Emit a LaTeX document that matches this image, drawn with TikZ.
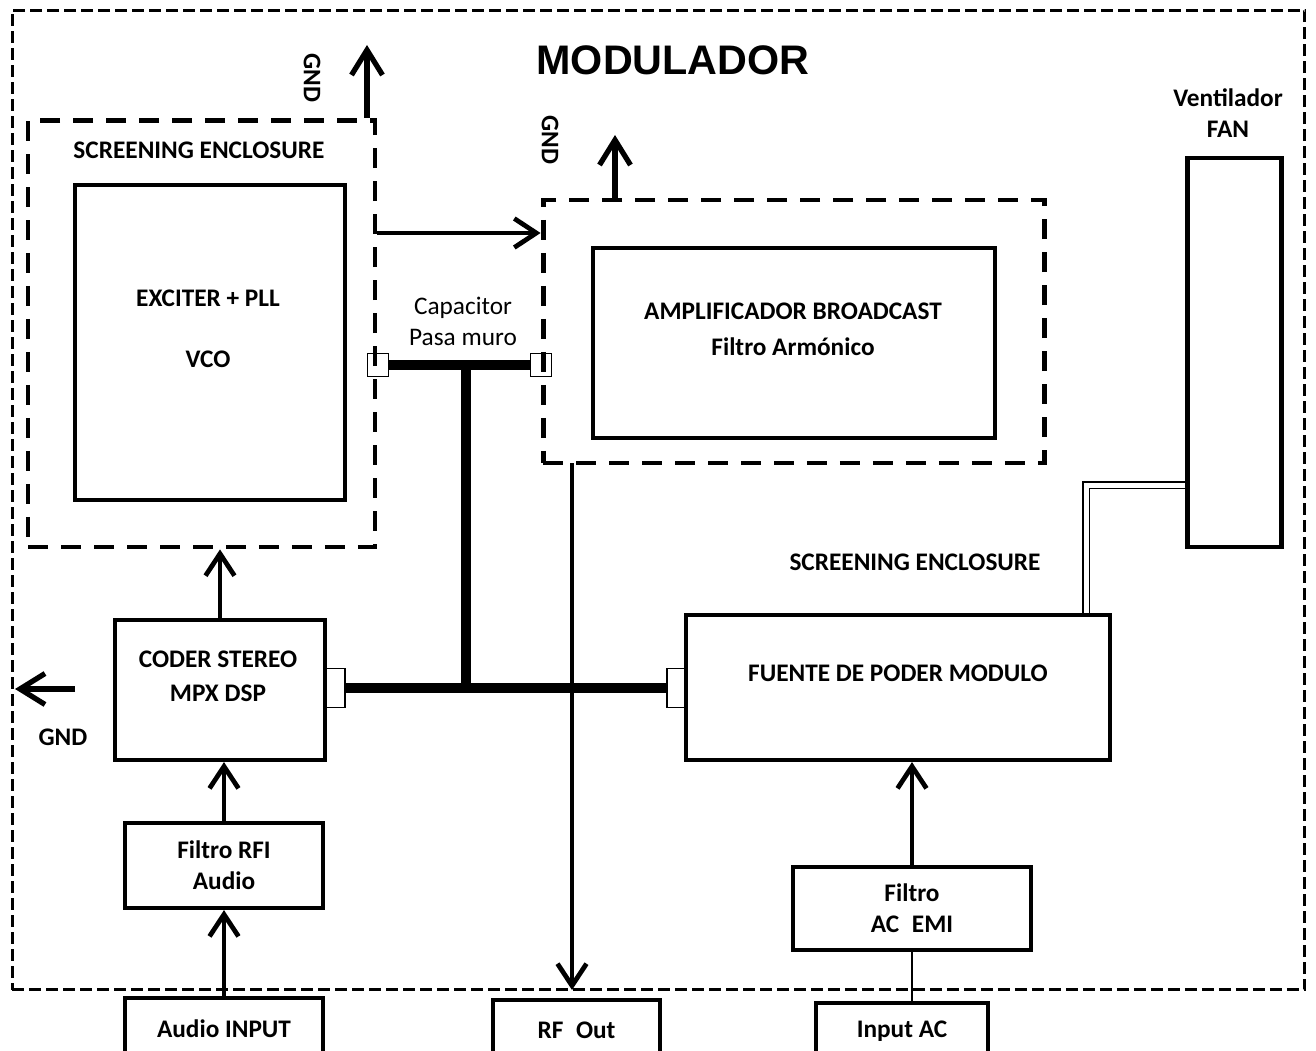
\documentclass[tikz,border=0pt]{standalone}
\usepackage{fontspec}
\setmainfont{Carlito}
\newfontfamily\titlefont{Liberation Sans}
\usetikzlibrary{arrows.meta,calc}

\begin{document}
\begin{tikzpicture}[x=0.02cm, y=-0.02cm, every node/.style={font=\bfseries\fontsize{14.4}{17.8}\selectfont, align=center}]
  \tikzset{
    blk/.style={draw, line width=2.4pt, inner sep=0pt},
    encl/.style={draw, line width=2.8pt, dash pattern=on 0.4cm off 0.26cm, inner sep=0pt},
    outerbox/.style={draw, line width=1.8pt, dash pattern=on 0.24cm off 0.1cm, inner sep=0pt},
    feed/.style={draw, line width=1pt, minimum width=0.42cm, minimum height=0.46cm, inner sep=0pt},
    feedv/.style={draw, line width=1pt, minimum width=0.4cm, minimum height=0.78cm, inner sep=0pt},
    bus/.style={line width=5.6pt},
    arr/.style={line width=2.7pt, -{Straight Barb[length=0.44cm, width=0.58cm]}},
    gndarr/.style={line width=3pt, -{Straight Barb[length=0.5cm, width=0.62cm]}},
    wire/.style={line width=1.6pt},
    fanline/.style={double, line width=1.1pt, double distance=0.1cm}
  }
  \useasboundingbox (0,0) rectangle (1316,1051);
  \clip (0,0) rectangle (1316,1051);

  % --- outer enclosure ---
  \node[outerbox, minimum width=25.86cm, minimum height=19.6cm] (modbox) at (658.5,500) {};
  \node[font=\titlefont\bfseries\fontsize{23.5}{28}\selectfont] (title) at (673,60) {MODULADOR};

  % --- screening enclosure: exciter ---
  \node[encl, minimum width=6.94cm, minimum height=8.54cm] (scrA) at (201.5,333.5) {};
  \node (scrAt) at (199,150) {SCREENING ENCLOSURE};
  \node[blk, minimum width=5.4cm, minimum height=6.3cm] (exciter) at (210,342.5) {};
  \node (exciterT) at (208,329) {EXCITER + PLL\\[0.6cm]VCO};
  \coordinate (gndA) at (367,45);
  \draw[gndarr] (gndA |- scrA.north) -- (gndA);
  \node[rotate=-90] (gndAt) at (312,78) {GND};

  % --- screening enclosure: amplificador ---
  \node[encl, minimum width=10.04cm, minimum height=5.26cm] (scrB) at (794,331.5) {};
  \node[blk, minimum width=8.04cm, minimum height=3.8cm] (ampli) at (794,343) {};
  \node (ampliT) at (793,329.5) {AMPLIFICADOR BROADCAST\\[0.1cm]Filtro Armónico};
  \coordinate (gndB) at (615,135);
  \draw[gndarr] (gndB |- scrB.north) -- (gndB);
  \node[rotate=-90] (gndBt) at (550,140) {GND};
  \draw[arr] (scrA.east |- 0,233) -- (scrB.west |- 0,233);

  % --- capacitor pasa muro ---
  \node[font=\fontsize{14.4}{17.8}\selectfont] (capT) at (463,321.5) {Capacitor\\Pasa muro};
  \node[feed] (capA) at (378,365) {};
  \node[feed] (capB) at (541,365) {};
  \draw[bus] (capA) -- (capB);

  % --- fan ---
  \node (fanT) at (1228,113) {Ventilador\\FAN};
  \node[blk, minimum width=1.88cm, minimum height=7.78cm] (fan) at (1234.5,352.5) {};

  % --- coder / filtro RFI ---
  \node[blk, minimum width=4.2cm, minimum height=2.8cm] (coder) at (220,690) {};
  \node (coderT) at (218,676) {CODER STEREO\\[0.06cm]MPX DSP};
  \node[blk, minimum width=3.96cm, minimum height=1.7cm] (rfi) at (224,865.5) {Filtro RFI\\Audio};
  \node[blk, minimum width=3.96cm, minimum height=1.24cm] (audioin) at (224,1029) {Audio INPUT};
  \coordinate (gndC) at (15,689);
  \coordinate (gndCs) at (75,689);
  \draw[gndarr] (gndCs) -- (gndC);
  \node (gndCt) at (63,737) {GND};

  % --- fuente de poder ---
  \node (scrCt) at (915,562) {SCREENING ENCLOSURE};
  \node[blk, minimum width=8.48cm, minimum height=2.9cm] (fuente) at (898,687.5) {};
  \node (fuenteT) at (898,673) {FUENTE DE PODER MODULO};
  \node[blk, minimum width=4.76cm, minimum height=1.66cm] (emi) at (912,908.5) {Filtro\\AC\enspace EMI};
  \node[blk, minimum width=3.44cm, minimum height=1.14cm] (acin) at (902,1031.5) {Input AC};
  \node[blk, minimum width=3.34cm, minimum height=1.2cm] (rfout) at (576.5,1030) {RF\enspace Out};

  % --- buses ---
  \node[feedv] (portC) at (335,688) {};
  \node[feedv] (portF) at (677,688) {};
  \draw[bus] (portC) -- (portF);
  \coordinate (busT) at (466,365);
  \coordinate (busB) at (466,688);
  \draw[bus] (busT) -- (busB);

  % --- signal paths ---
  \draw[arr] (coder.north) -- (coder.north |- scrA.south);
  \draw[arr] (rfi.north) -- (rfi.north |- coder.south);
  \draw[arr] (audioin.north) -- (audioin.north |- rfi.south);
  \draw[arr] (572,463) -- (572,990);
  \draw[arr] (emi.north) -- (emi.north |- fuente.south);
  \draw[wire] (emi.south) -- (emi.south |- acin.north);
  \coordinate (fanJ) at (1086,485);
  \draw[fanline] (fan.west |- fanJ) -| (fanJ |- fuente.north);
\end{tikzpicture}
\end{document}
